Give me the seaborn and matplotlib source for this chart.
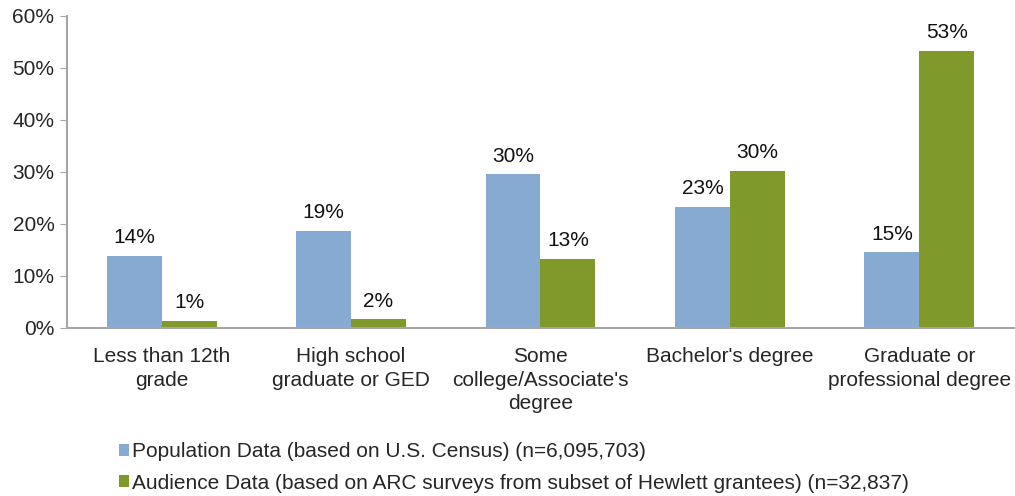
import pandas as pd
import matplotlib.pyplot as plt
import seaborn as sns

# --- data ---
categories = [
    "Less than 12th\ngrade",
    "High school\ngraduate or GED",
    "Some\ncollege/Associate's\ndegree",
    "Bachelor's degree",
    "Graduate or\nprofessional degree",
]
population = [13.9, 18.7, 29.6, 23.3, 14.6]
audience = [1.4, 1.7, 13.3, 30.2, 53.3]
series_names = [
    "Population Data (based on U.S. Census) (n=6,095,703)",
    "Audience Data (based on ARC surveys from subset of Hewlett grantees) (n=32,837)",
]
colors = ["#87AAD3", "#7F9A2B"]

df = pd.DataFrame({
    "Category": categories * 2,
    "Value": population + audience,
    "Series": [series_names[0]] * len(categories) + [series_names[1]] * len(categories),
})

sns.set_style("white")
plt.rcParams["font.family"] = ["Liberation Sans", "DejaVu Sans"]

fig = plt.figure(figsize=(10.15, 4.96), dpi=100)
ax = fig.add_axes([0.066, 0.339, 0.933, 0.629])

sns.barplot(data=df, x="Category", y="Value", hue="Series", palette=colors,
            width=0.58, gap=0, saturation=1, linewidth=0, ax=ax, legend=True)

for cont in ax.containers:
    ax.bar_label(cont, labels=[f"{v:.0f}%" for v in cont.datavalues],
                 padding=6, fontsize=15, color="#111111")

ax.set_ylim(0, 60)
ax.set_xlim(-0.5, len(categories) - 0.5)
ax.set_yticks(range(0, 61, 10))
ax.set_yticklabels([f"{t}%" for t in range(0, 61, 10)], fontsize=15)
ax.set_xticks(range(len(categories)))
ax.set_xticklabels(categories, fontsize=15, linespacing=1.3)
ax.set_xticks([i - 0.5 for i in range(len(categories) + 1)], minor=True)
ax.tick_params(axis="x", which="major", length=0, pad=14)
ax.tick_params(axis="x", which="minor", length=5, color="#A6A6A6", direction="out")
ax.tick_params(axis="y", length=5, color="#A6A6A6", direction="out", pad=4, left=True)
ax.set_xlabel("")
ax.set_ylabel("")

for s in ["top", "right"]:
    ax.spines[s].set_visible(False)
for s in ["left", "bottom"]:
    ax.spines[s].set_color("#A6A6A6")
    ax.spines[s].set_linewidth(1.5)

leg = ax.legend(loc="upper left", bbox_to_anchor=(0.046, -0.34), frameon=False,
                fontsize=15, handlelength=0.5, handleheight=0.5, handletextpad=0.15,
                labelspacing=0.6, borderaxespad=0)

fig.savefig("out.png", dpi=100)
